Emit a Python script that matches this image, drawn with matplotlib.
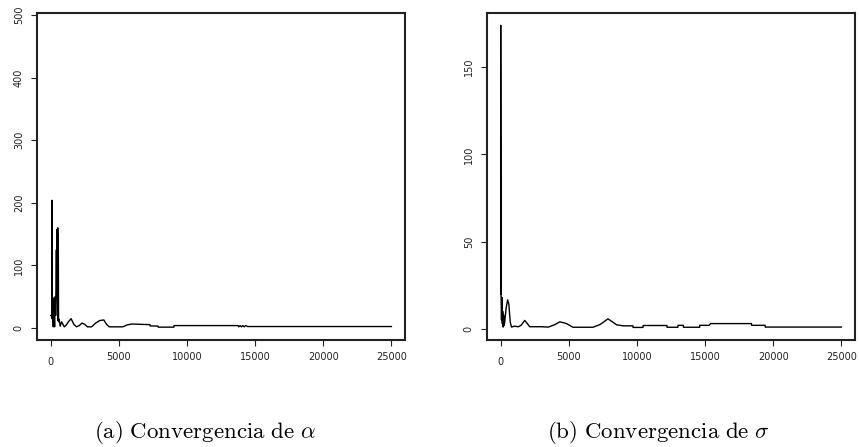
import numpy as np
import matplotlib.pyplot as plt
from matplotlib.transforms import ScaledTranslation

plt.rcParams['mathtext.fontset'] = 'cm'

# traza de alfa (iteracion, valor)
alfa_iter = [0, 80, 100, 115, 130, 150, 170, 190, 210, 230, 250, 270, 290, 310, 330,
             350, 380, 420, 450, 480, 500, 520, 540, 560, 580, 620, 700, 800, 900,
             1000, 1150, 1300, 1500, 1700, 1900, 2100, 2300, 2500, 2700, 3000, 3300,
             3600, 3900, 4100, 4300, 5300, 5600, 5950, 7280, 7300, 7870, 7900, 9040,
             9050, 13750, 13800, 13900, 14000, 14100, 14200, 14300, 14450, 25000]
alfa_val = [20, 20, 204, 15, 50, 10, 40, 2, 30, 5, 48, 15, 2, 25, 50,
            20, 50, 125, 50, 158, 20, 160, 12, 150, 10, 14, 3, 10, 6,
            2, 5, 10, 15, 6, 2, 4, 8, 6, 2, 2, 8,
            12, 13, 6, 2, 2, 5, 6.5, 5.5, 3.5, 3.2, 1.5, 1.5,
            4, 4, 2, 4, 2, 4, 2, 4, 2.5, 2.5]

# traza de sigma (iteracion, valor)
sigma_iter = [0, 1, 30, 60, 90, 120, 150, 180, 210, 250, 300, 400, 510, 600, 700, 790,
              1000, 1300, 1500, 1765, 2000, 2130, 3000, 3500, 4000, 4340, 4600, 4830,
              5300, 6770, 7300, 7870, 8200, 8500, 9000, 9700, 9710, 10440, 10450,
              12200, 12210, 13000, 13010, 13400, 13410, 14600, 14610, 15300, 15400,
              18400, 18410, 19400, 19410, 25000]
sigma_val = [20, 174, 19, 5, 18, 3, 10, 1, 8, 2, 4, 12, 16.6, 14, 4, 1,
             1.5, 1.2, 2, 4.8, 2.5, 1.2, 1.2, 1, 2.5, 4, 3.5, 3,
             0.9, 0.9, 2.5, 5.7, 4, 2.3, 1.7, 1.7, 0.8, 0.8, 1.9,
             1.9, 0.9, 0.9, 2, 2, 0.9, 0.9, 2, 2, 3,
             3, 2, 2, 1, 1]

xticks = [0, 5000, 10000, 15000, 20000, 25000]
alfa_yticks = [0, 100, 200, 300, 400, 500]
sigma_yticks = [0, 50, 100, 150]

fig = plt.figure(figsize=(8.59, 4.47), dpi=100)
ax1 = fig.add_axes([0.0431, 0.2394, 0.4284, 0.7315])
ax2 = fig.add_axes([0.567, 0.2394, 0.4284, 0.7315])

paneles = [(ax1, alfa_iter, alfa_val, alfa_yticks, (-19, 503)),
           (ax2, sigma_iter, sigma_val, sigma_yticks, (-6.4, 181))]

for ax, xs, ys, yt, ylim in paneles:
    ax.plot(xs, ys, color='black', lw=1.0)
    ax.set_xlim(-1000, 26000)
    ax.set_ylim(*ylim)
    ax.set_xticks(xticks)
    ax.set_xticklabels([str(t) for t in xticks])
    ax.set_yticks(yt)
    ax.set_yticklabels([str(t) for t in yt], rotation=90, va='center')
    ax.tick_params(direction='out', length=4.5, width=0.8, labelsize=7,
                   colors='#222222')
    ax.tick_params(axis='x', pad=4)
    ax.tick_params(axis='y', pad=5)
    for s in ax.spines.values():
        s.set_linewidth(1.5)
        s.set_color('#222222')
    # el "0" del eje x queda un poco mas abajo
    lbl = ax.get_xticklabels()[0]
    lbl.set_transform(lbl.get_transform() + ScaledTranslation(0, -4 / 72, fig.dpi_scale_trans))

fig.text(0.239, 0.033, r'$\mathrm{(a)\ Convergencia\ de\ }\alpha$',
         ha='center', va='center', fontsize=16.5)
fig.text(0.766, 0.033, r'$\mathrm{(b)\ Convergencia\ de\ }\sigma$',
         ha='center', va='center', fontsize=16.5)

fig.savefig('out.png', dpi=100)
